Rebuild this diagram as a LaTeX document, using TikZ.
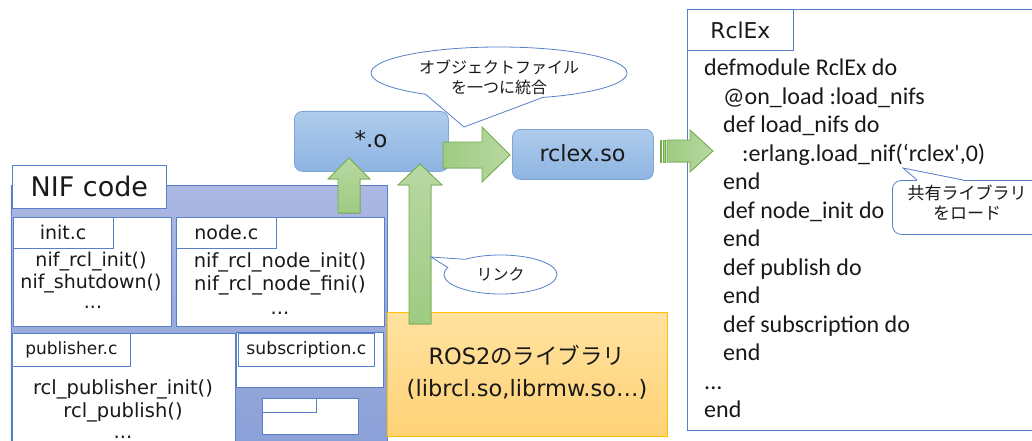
\documentclass[tikz,border=0pt]{standalone}
\usepackage{fontspec}
\setmainfont{DejaVu Sans}
\newfontfamily\jp{Noto Sans CJK JP}
\newfontfamily\code{Carlito}
\usetikzlibrary{shapes.geometric,shapes.callouts}
\definecolor{bdr}{RGB}{88,128,200}
\definecolor{nifTop}{RGB}{172,184,226}
\definecolor{nifBot}{RGB}{136,158,214}
\definecolor{boxTop}{RGB}{174,204,236}
\definecolor{boxBot}{RGB}{142,180,226}
\definecolor{boxBdr}{RGB}{125,165,215}
\definecolor{grnL}{RGB}{184,216,162}
\definecolor{grnD}{RGB}{158,203,130}
\definecolor{grnBdr}{RGB}{112,173,71}
\definecolor{rosTop}{RGB}{255,226,160}
\definecolor{rosBot}{RGB}{255,210,118}
\definecolor{rosBdr}{RGB}{255,192,0}
\definecolor{txt}{RGB}{25,25,25}
\begin{document}
\begin{tikzpicture}[x=1pt,y=-1pt,
  every node/.style={text=txt},
  panel/.style={draw=bdr,line width=0.8pt,top color=nifTop,bottom color=nifBot,inner sep=0pt,anchor=north west},
  wbox/.style={draw=bdr,line width=0.8pt,fill=white,inner sep=0pt,anchor=north west},
  obj/.style={draw=boxBdr,line width=0.8pt,top color=boxTop,bottom color=boxBot,rounded corners=8pt,inner sep=0pt,anchor=north west},
  rosbox/.style={draw=rosBdr,line width=0.8pt,top color=rosTop,bottom color=rosBot,inner sep=0pt,anchor=north west},
  garrowv/.style={draw=grnBdr,line width=0.8pt,top color=grnL,bottom color=grnD},
  garrowh/.style={draw=grnBdr,line width=0.8pt,left color=grnD,right color=grnL},
  bubble/.style={draw=bdr,line width=0.8pt,fill=white,inner sep=0pt},
  fA/.style={font=\fontsize{27}{32}\selectfont},
  fB/.style={font=\fontsize{19}{23}\selectfont},
  fF/.style={font=\fontsize{19.5}{23}\selectfont},
  fL/.style={font=\fontsize{22.5}{27}\selectfont},
  fC/.style={font=\code\fontsize{24}{28}\selectfont,anchor=mid west,inner sep=0pt},
  fJ/.style={font=\jp\fontsize{16}{20}\selectfont,align=center},
  fJb/.style={font=\jp\fontsize{17}{20}\selectfont,align=center}
]
\useasboundingbox (0,0) rectangle (1032,441);
\clip (0,0) rectangle (1032,441);
\fill[white] (0,0) rectangle (1032,441);

% ---------- NIF code panel ----------
\node[panel,minimum width=376.5pt,minimum height=280pt] (nif) at (10.5,185) {};
\node[wbox,fA,minimum width=154pt,minimum height=43pt] (niflabel) at (12,165) {NIF code};

\node[wbox,minimum width=158pt,minimum height=109pt] (init) at (12.7,217) {};
\node[wbox,fB,minimum width=100pt,minimum height=31pt] (initlabel) at (12.7,217) {init.c};
\node[fB,anchor=mid] (i1) at (91,264) {nif\_rcl\_init()};
\node[fB,anchor=mid] (i2) at (91,286) {nif\_shutdown()};
\node[fB,anchor=base] (i3) at (93,308) {...};

\node[wbox,minimum width=208pt,minimum height=109pt] (node) at (176,217) {};
\node[wbox,fB,minimum width=100pt,minimum height=31pt] (nodelabel) at (176,217) {node.c};
\node[fF,anchor=mid] (n1) at (280,265) {nif\_rcl\_node\_init()};
\node[fF,anchor=mid] (n2) at (280,288) {nif\_rcl\_node\_fini()};
\node[fF,anchor=base] (n3) at (280,314) {...};

\node[wbox,minimum width=223pt,minimum height=130pt] (pub) at (12,333) {};
\node[wbox,font=\fontsize{17}{20}\selectfont,minimum width=118pt,minimum height=33pt] (publabel) at (12,333) {publisher.c};
\node[fF,anchor=mid] (p1) at (123,391.5) {rcl\_publisher\_init()};
\node[fF,anchor=mid] (p2) at (123,414.5) {rcl\_publish()};
\node[fF,anchor=base,inner sep=0pt] (p3) at (123,438) {...};

\node[wbox,minimum width=147pt,minimum height=55pt] (sub) at (236,332) {};
\node[wbox,font=\fontsize{17.2}{20}\selectfont,minimum width=136pt,minimum height=33pt] (sublabel) at (238,333) {subscription.c};

\node[wbox,minimum width=96pt,minimum height=36pt] (small) at (262,398) {};
\node[wbox,minimum width=54pt,minimum height=14pt] (smalllabel) at (262,398) {};

% ---------- ROS2 library ----------
\node[rosbox,minimum width=280pt,minimum height=124pt] (ros) at (387,312) {};
\node[fL,align=center,font=\fontsize{22.5}{32}\selectfont] (rostext) at (527,372)
  {ROS2{\jp のライブラリ}\\(librcl.so,librmw.so…)};

% ---------- object / shared lib ----------
\node[obj,minimum width=154pt,minimum height=60pt] (obj) at (294,111) {};
\node[font=\fontsize{23}{27}\selectfont] (objtext) at (371,139) {*.o};
\node[obj,minimum width=141pt,minimum height=50pt] (so) at (512,129) {};
\node[font=\fontsize{22.3}{27}\selectfont] (sotext) at (582.5,153) {rclex.so};

% ---------- RclEx module ----------
\node[wbox,minimum width=360pt,minimum height=421pt] (rclex) at (687,9) {};
\node[wbox,font=\fontsize{21.8}{26}\selectfont,minimum width=106pt,minimum height=41pt] (rclexlabel) at (687,9) {RclEx};
\node[fC] (l1) at (704,73) {defmodule RclEx do};
\node[fC] (l2) at (723,101.5) {@on\_load :load\_nifs};
\node[fC] (l3) at (723,130) {def load\_nifs do};
\node[fC] (l4) at (742,158.5) {:erlang.load\_nif(‘rclex',0)};
\node[fC] (l5) at (723,187) {end};
\node[fC] (l6) at (723,215.5) {def node\_init do};
\node[fC] (l7) at (723,244) {end};
\node[fC] (l8) at (723,272.5) {def publish do};
\node[fC] (l9) at (723,301) {end};
\node[fC] (l10) at (723,329.5) {def subscription do};
\node[fC] (l11) at (723,358) {end};
\node[fC] (l12) at (704,386.5) {...};
\node[fC] (l13) at (704,415) {end};

% ---------- block arrows ----------
% NIF code -> *.o
\filldraw[garrowv] (338,213) -- (338,179) -- (328,179) -- (349,158) -- (370,179) -- (360,179) -- (360,213) -- cycle;
% ROS2 -> *.o (link)
\filldraw[garrowv] (409,324) -- (409,185) -- (398,185) -- (420,164) -- (442,185) -- (431,185) -- (431,324) -- cycle;
% *.o -> rclex.so
\filldraw[garrowh] (443,142) -- (482,142) -- (482,127) -- (510,155) -- (482,182) -- (482,168) -- (443,168) -- cycle;
% rclex.so -> RclEx (striped)
\filldraw[garrowh] (660,140) rectangle (661.5,162);
\filldraw[garrowh] (663,140) rectangle (665,162);
\filldraw[garrowh] (667,140) -- (690,140) -- (690,130) -- (713,151) -- (690,172) -- (690,162) -- (667,162) -- cycle;

% ---------- callouts ----------
\node[ellipse callout,bubble,minimum width=256pt,minimum height=52pt,
  callout absolute pointer={(464,127)},callout pointer arc=55] (b1) at (499,73) {};
\node[fJ] (b1text) at (499,77) {オブジェクトファイル\\を一つに統合};

\node[ellipse callout,bubble,minimum width=113pt,minimum height=39pt,
  callout absolute pointer={(431,257)},callout pointer arc=30] (b2) at (500.5,274.5) {};
\node[fJ] (b2text) at (500.5,274.5) {リンク};

\node[bubble,rounded corners=9pt,minimum width=170pt,minimum height=54pt,anchor=north west] (b3) at (892,180) {};
\coordinate (b3tip) at (903,168);
\fill[white] (917,180) -- (b3tip) -- (963,180) -- (963,183) -- (917,183) -- cycle;
\draw[draw=bdr,line width=0.8pt] (917,180) -- (b3tip) -- (963,180);
\node[fJb] (b3text) at (967,203) {共有ライブラリ\\をロード};
\end{tikzpicture}
\end{document}
